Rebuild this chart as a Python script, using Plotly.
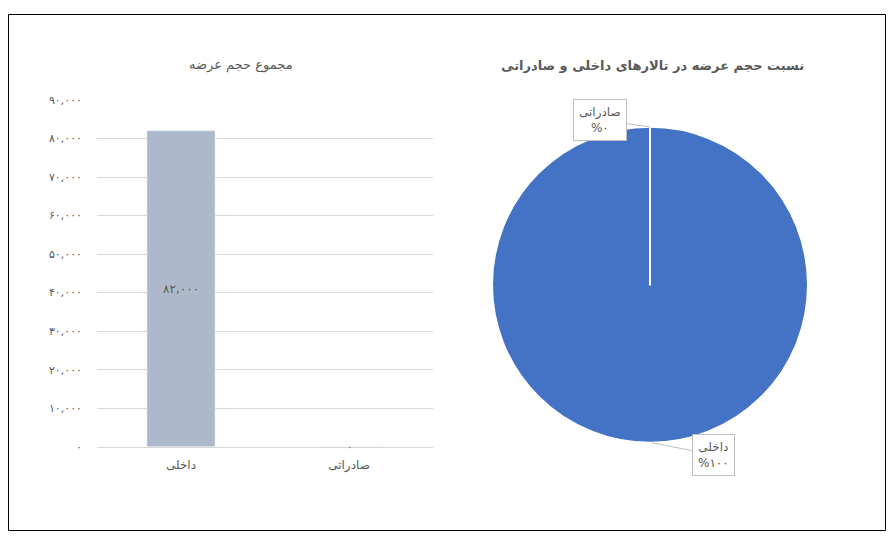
import plotly.graph_objects as go

categories = ["داخلی", "صادراتی"]
values = [82000, 0]
value_labels = ["۸۲,۰۰۰", "۰"]
tick_vals = [0, 10000, 20000, 30000, 40000, 50000, 60000, 70000, 80000, 90000]
tick_text = ["۰", "۱۰,۰۰۰", "۲۰,۰۰۰", "۳۰,۰۰۰", "۴۰,۰۰۰", "۵۰,۰۰۰",
             "۶۰,۰۰۰", "۷۰,۰۰۰", "۸۰,۰۰۰", "۹۰,۰۰۰"]
pie_pct_labels = ["%۱۰۰", "%۰"]
bar_title = "مجموع حجم عرضه"
pie_title = "نسبت حجم عرضه در تالارهای داخلی و صادراتی"

# the page offsets the figure (8px body margin) and the capture squeezes it slightly
OFF = 8
W, H = 894 - 2 * OFF, 546 - 2 * OFF
SY, OY = 0.976, 14.0
FONT = "DejaVu Sans"
GRAY = "#595959"

def px(x):
    return (x - OFF) / W

def py(y):
    return 1 - ((y - OY) / SY) / H

fig = go.Figure()
fig.add_trace(go.Bar(
    x=categories, y=values, text=[value_labels[0], ""], textposition=["inside", "none"],
    insidetextanchor="middle", cliponaxis=False,
    textfont=dict(family=FONT, size=12, color=GRAY),
    marker=dict(color="#ADB9CA"), width=0.405, showlegend=False,
    hoverinfo="x+y", xaxis="x", yaxis="y",
))
fig.add_trace(go.Pie(
    labels=categories, values=values, sort=False, direction="clockwise",
    rotation=0, textinfo="none",
    marker=dict(colors=["#4472C4", "#ED7D31"], line=dict(color="white", width=2)),
    domain=dict(x=[px(492), px(808)], y=[py(460), py(110)]),
    showlegend=False,
))

fig.update_layout(
    width=W, height=H, margin=dict(l=0, r=0, t=0, b=0),
    paper_bgcolor="white", plot_bgcolor="white",
    font=dict(family=FONT, color=GRAY, size=11),
    xaxis=dict(domain=[px(97), px(433)], showgrid=False, showline=True,
               linecolor="#D9D9D9", linewidth=1, ticks="", ticklabelstandoff=7,
               tickfont=dict(size=12, color=GRAY), fixedrange=True),
    yaxis=dict(domain=[py(447), py(100)], range=[0, 90000], tickvals=tick_vals,
               ticktext=tick_text, showgrid=True, gridcolor="#D9D9D9",
               zeroline=False, showline=False, ticks="", ticklabelstandoff=14,
               tickfont=dict(size=11, color=GRAY)),
    shapes=[
        dict(type="rect", xref="paper", yref="paper", x0=px(8.5), x1=px(885.5),
             y0=0.5 / H, y1=1 - 0.5 / H, line=dict(color="black", width=1)),
    ],
    annotations=[
        dict(text=value_labels[1], xref="x", yref="y", x=categories[1], y=values[1],
             xanchor="center", yanchor="middle", showarrow=False,
             font=dict(size=10, color=GRAY)),
        dict(text=bar_title, xref="paper", yref="paper", x=px(241), y=py(65),
             xanchor="center", yanchor="middle",
             showarrow=False, font=dict(size=13, color=GRAY)),
        dict(text="<b>" + pie_title + "</b>", xref="paper", yref="paper", x=px(652), y=py(66),
             xanchor="center", yanchor="middle",
             showarrow=False, font=dict(size=13, color=GRAY)),
        dict(text=categories[1] + "<br>" + pie_pct_labels[1], xref="paper", yref="paper",
             x=px(650), y=py(127), ax=-50, ay=-7, showarrow=True, arrowhead=0,
             arrowcolor="#BFBFBF", arrowwidth=1, bordercolor="#BFBFBF", borderwidth=1,
             borderpad=5, bgcolor="white", font=dict(size=12, color=GRAY)),
        dict(text=categories[0] + "<br>" + pie_pct_labels[0], xref="paper", yref="paper",
             x=px(652), y=py(443), ax=61, ay=12, showarrow=True, arrowhead=0,
             arrowcolor="#BFBFBF", arrowwidth=1, bordercolor="#BFBFBF", borderwidth=1,
             borderpad=5, bgcolor="white", font=dict(size=12, color=GRAY)),
    ],
)

fig.write_html("out.html")
